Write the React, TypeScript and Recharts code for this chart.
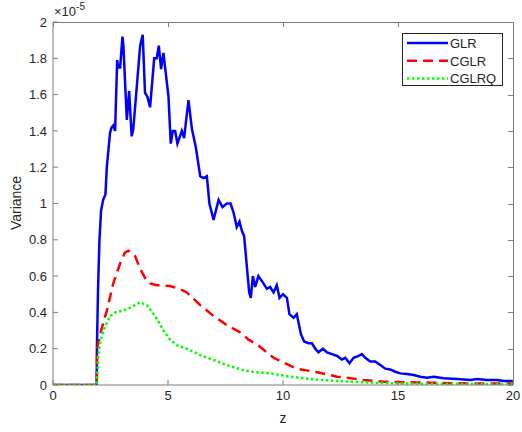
import React from 'react';
import { LineChart, Line, XAxis, YAxis } from 'recharts';

// values are in units of 1e-5 (axis multiplier shown top-left)
const glrZ = [0, 1.9, 1.91, 1.96, 2.02, 2.09, 2.18, 2.28, 2.34, 2.48, 2.55, 2.62, 2.7, 2.79, 2.84, 2.92, 3.02, 3.06, 3.21, 3.31, 3.42, 3.49, 3.64, 3.79, 3.9, 4.0, 4.1, 4.22, 4.4, 4.51, 4.6, 4.7, 4.8, 5.02, 5.12, 5.21, 5.31, 5.41, 5.6, 5.7, 5.89, 6.04, 6.21, 6.4, 6.54, 6.69, 6.8, 6.98, 7.2, 7.37, 7.56, 7.72, 7.85, 7.99, 8.11, 8.21, 8.31, 8.43, 8.53, 8.6, 8.69, 8.79, 8.93, 9.15, 9.3, 9.44, 9.59, 9.73, 9.85, 10.0, 10.17, 10.28, 10.46, 10.6, 10.78, 10.92, 11.11, 11.26, 11.4, 11.54, 11.74, 11.91, 12.13, 12.35, 12.56, 12.71, 12.89, 13.07, 13.29, 13.43, 13.58, 13.79, 14.01, 14.23, 14.45, 14.66, 14.88, 15.1, 15.39, 15.68, 15.97, 16.26, 16.55, 16.98, 17.57, 18.15, 18.44, 18.87, 19.31, 19.6, 20];
const glrV = [0, 0, 0.21, 0.54, 0.8, 0.96, 1.02, 1.05, 1.2, 1.39, 1.42, 1.43, 1.4, 1.79, 1.75, 1.75, 1.92, 1.87, 1.46, 1.62, 1.37, 1.41, 1.64, 1.87, 1.93, 1.61, 1.59, 1.53, 1.8, 1.8, 1.87, 1.74, 1.83, 1.59, 1.33, 1.4, 1.4, 1.33, 1.4, 1.36, 1.57, 1.41, 1.31, 1.15, 1.14, 1.15, 1.0, 0.91, 1.02, 0.98, 1.0, 1.0, 0.95, 0.87, 0.9, 0.85, 0.82, 0.65, 0.51, 0.48, 0.6, 0.54, 0.6, 0.56, 0.53, 0.54, 0.51, 0.55, 0.48, 0.5, 0.48, 0.39, 0.37, 0.39, 0.28, 0.24, 0.23, 0.23, 0.2, 0.18, 0.2, 0.18, 0.17, 0.16, 0.14, 0.15, 0.12, 0.15, 0.16, 0.17, 0.15, 0.13, 0.13, 0.11, 0.09, 0.086, 0.073, 0.064, 0.061, 0.055, 0.046, 0.04, 0.046, 0.037, 0.033, 0.028, 0.033, 0.028, 0.028, 0.022, 0.022];

const cglrZ = [0, 1.9, 1.92, 2.07, 2.34, 2.62, 2.92, 3.13, 3.28, 3.57, 3.79, 4.0, 4.22, 4.51, 5.09, 5.5, 5.82, 6.4, 6.98, 7.56, 8.14, 8.5, 8.9, 9.59, 10.6, 11.5, 12.35, 13.5, 14.4, 15.4, 16.4, 17.8, 20];
const cglrV = [0, 0, 0.2, 0.29, 0.41, 0.56, 0.67, 0.73, 0.74, 0.71, 0.64, 0.59, 0.56, 0.55, 0.545, 0.53, 0.51, 0.44, 0.38, 0.33, 0.29, 0.25, 0.22, 0.15, 0.09, 0.07, 0.046, 0.028, 0.018, 0.015, 0.013, 0.009, 0.008];

const cglrqZ = [0, 1.9, 1.97, 2.04, 2.19, 2.48, 2.7, 3.06, 3.42, 3.79, 4.08, 4.44, 4.8, 5.09, 5.38, 5.82, 6.4, 6.98, 7.56, 8.14, 8.58, 9.44, 10.3, 11.33, 12.35, 13.5, 14.96, 16.4, 20];
const cglrqV = [0, 0, 0.16, 0.23, 0.3, 0.38, 0.4, 0.41, 0.43, 0.455, 0.44, 0.38, 0.3, 0.25, 0.22, 0.2, 0.165, 0.138, 0.11, 0.086, 0.073, 0.064, 0.046, 0.031, 0.022, 0.015, 0.009, 0.007, 0.005];

const xTicks = [0, 5, 10, 15, 20];
const yTicks = [0, 0.2, 0.4, 0.6, 0.8, 1, 1.2, 1.4, 1.6, 1.8, 2];

const toPoints = (z: number[], v: number[]) => z.map((x, i) => ({ z: x, v: v[i] }));

const series = [
  { name: 'GLR', data: toPoints(glrZ, glrV), color: '#0000ff', dash: undefined },
  { name: 'CGLR', data: toPoints(cglrZ, cglrV), color: '#ff0000', dash: '10 6' },
  { name: 'CGLRQ', data: toPoints(cglrqZ, cglrqV), color: '#00ff00', dash: '2.5 2.5' },
];

const FONT = '"Liberation Sans", Arial, Helvetica, sans-serif';
const AXIS = '#7f7f7f';
const TEXT = '#262626';
const TICK = 5;

// plot box in page pixels (same numbers drive the chart margins)
const W = 522, H = 432;
const BOX = { left: 53, top: 22, right: 513, bottom: 385 };
const X_MAX = 20, Y_MAX = 2;

// top and right edges of the MATLAB-style box, with inward ticks
const BoxEdges = () => {
  const bw = BOX.right - BOX.left, bh = BOX.bottom - BOX.top;
  return (
    <div style={{ position: 'absolute', left: 0, top: 0, width: W, height: H, zIndex: 5, pointerEvents: 'none' }}>
      <svg width={W} height={H} style={{ display: 'block' }}>
        <path d={`M${BOX.left},${BOX.top + 0.5}H${BOX.right + 0.5}V${BOX.bottom}`} fill="none" stroke={AXIS} strokeWidth={1} />
        {xTicks.map((t) => {
          const x = Math.round(BOX.left + (t / X_MAX) * bw) + 0.5;
          return <path key={`t${t}`} d={`M${x},${BOX.top}V${BOX.top + TICK}`} stroke={AXIS} strokeWidth={1} />;
        })}
        {yTicks.map((t) => {
          const y = Math.round(BOX.bottom - (t / Y_MAX) * bh) + 0.5;
          return <path key={`r${t}`} d={`M${BOX.right - TICK},${y}H${BOX.right}`} stroke={AXIS} strokeWidth={1} />;
        })}
      </svg>
    </div>
  );
};

const LegendBox = () => (
  <svg width={101} height={53} style={{ position: 'absolute', left: 402, top: 33, zIndex: 6 }}>
    <rect x={0.5} y={0.5} width={100} height={52} fill="#fff" stroke="#262626" strokeWidth={1} />
    {series.map((s, i) => (
      <g key={s.name}>
        <line x1={5} x2={46} y1={10 + i * 17.8} y2={10 + i * 17.8} stroke={s.color} strokeWidth={2.5} strokeDasharray={s.dash} />
        <text x={48} y={14.8 + i * 17.8} fontSize={13} fontFamily={FONT} fill={TEXT}>{s.name}</text>
      </g>
    ))}
  </svg>
);

export default function App() {
  return (
    <div style={{ position: 'absolute', left: 0, top: 0, width: W, height: H, background: '#fff', fontFamily: FONT }}>
      <LineChart width={W} height={H} margin={{ top: BOX.top, right: W - BOX.right, bottom: 0, left: 0 }}>
        <XAxis type="number" dataKey="z" domain={[0, X_MAX]} ticks={xTicks} height={H - BOX.bottom}
          tickSize={-TICK} tickMargin={11} stroke={AXIS} tick={{ fill: TEXT, fontSize: 13, fontFamily: FONT }} allowDataOverflow />
        <YAxis type="number" domain={[0, Y_MAX]} ticks={yTicks} width={BOX.left}
          tickSize={-TICK} tickMargin={11} stroke={AXIS} tick={{ fill: TEXT, fontSize: 13, fontFamily: FONT }}
          tickFormatter={(v: number) => String(+v.toFixed(1))} allowDataOverflow />
        {series.map((s) => (
          <Line key={s.name} data={s.data} dataKey="v" name={s.name} type="linear"
            stroke={s.color} strokeWidth={2.5} strokeDasharray={s.dash} dot={false} activeDot={false}
            isAnimationActive={false} />
        ))}
      </LineChart>
      <BoxEdges />
      <LegendBox />
      <div style={{ position: 'absolute', left: 16, top: 203, transform: 'translate(-50%, -50%) rotate(-90deg)', fontSize: 14, color: TEXT, whiteSpace: 'nowrap' }}>Variance</div>
      <div style={{ position: 'absolute', left: 283, top: 418, transform: 'translate(-50%, -50%)', fontSize: 14, color: TEXT }}>z</div>
      <div style={{ position: 'absolute', left: 54, top: 2, fontSize: 13, color: TEXT, whiteSpace: 'nowrap' }}>
        ×10<sup style={{ fontSize: 10, position: 'relative', top: -1 }}>-5</sup>
      </div>
    </div>
  );
}
